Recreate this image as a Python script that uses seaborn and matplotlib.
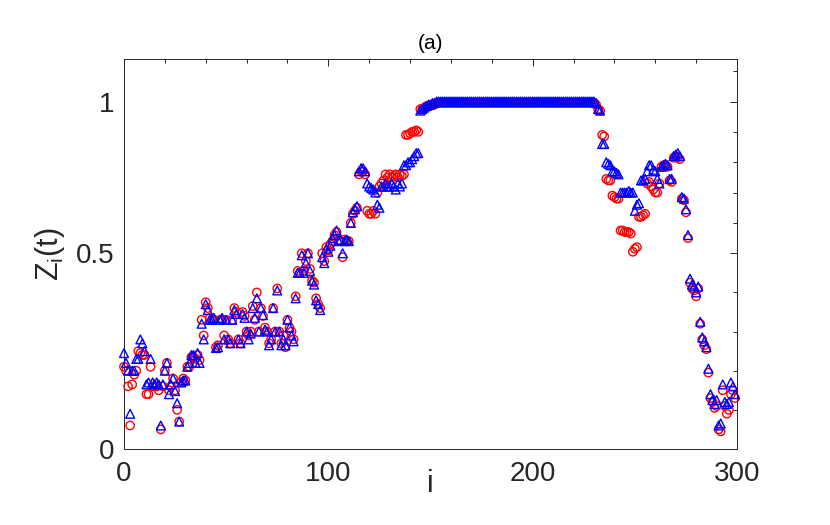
import numpy as np
import matplotlib
matplotlib.use("Agg")
import matplotlib.pyplot as plt
from matplotlib.ticker import MultipleLocator
import seaborn as sns

# index of the node
i_index = np.arange(300)

# Z_i(t), red circles
z_red = [
    0.21, 0.20, 0.16, 0.06, 0.165, 0.19, 0.20, 0.25, 0.245, 0.24,
    0.24, 0.14, 0.14, 0.21, 0.16, 0.16, 0.16, 0.15, 0.05, 0.16,
    0.20, 0.22, 0.15, 0.16, 0.18, 0.15, 0.10, 0.07, 0.17, 0.18,
    0.175, 0.21, 0.21, 0.235, 0.235, 0.23, 0.24, 0.227, 0.33, 0.29,
    0.375, 0.36, 0.335, 0.33, 0.33, 0.26, 0.265, 0.33, 0.33, 0.29,
    0.33, 0.28, 0.27, 0.33, 0.36, 0.35, 0.28, 0.27, 0.35, 0.34,
    0.30, 0.29, 0.30, 0.365, 0.33, 0.40, 0.30, 0.36, 0.34, 0.31,
    0.30, 0.27, 0.28, 0.36, 0.30, 0.41, 0.30, 0.27, 0.29, 0.26,
    0.33, 0.31, 0.30, 0.28, 0.39, 0.455, 0.45, 0.50, 0.455, 0.48,
    0.50, 0.46, 0.43, 0.425, 0.385, 0.37, 0.36, 0.50, 0.48, 0.52,
    0.51, 0.53, 0.54, 0.56, 0.57, 0.54, 0.54, 0.49, 0.545, 0.54,
    0.54, 0.60, 0.63, 0.64, 0.65, 0.76, 0.77, 0.77, 0.76, 0.64,
    0.63, 0.63, 0.64, 0.63, 0.70, 0.72, 0.73, 0.74, 0.76, 0.75,
    0.76, 0.75, 0.755, 0.76, 0.75, 0.76, 0.755, 0.76, 0.89, 0.89,
    0.895, 0.90, 0.90, 0.905, 0.90, 0.975, 0.975, 0.98, 0.985, 0.985,
    0.985, 0.99, 0.99, 0.995, 0.995, 0.995, 0.995, 0.995, 0.995, 0.995,
    0.995, 0.995, 0.995, 0.995, 0.995, 0.995, 0.995, 0.995, 0.995, 0.995,
    0.995, 0.995, 0.995, 0.995, 0.995, 0.995, 0.995, 0.995, 0.995, 0.995,
    0.995, 0.995, 0.995, 0.995, 0.995, 0.995, 0.995, 0.995, 0.995, 0.995,
    0.995, 0.995, 0.995, 0.995, 0.995, 0.995, 0.995, 0.995, 0.995, 0.995,
    0.995, 0.995, 0.995, 0.995, 0.995, 0.995, 0.995, 0.995, 0.995, 0.995,
    0.995, 0.995, 0.995, 0.995, 0.995, 0.995, 0.995, 0.995, 0.995, 0.995,
    0.995, 0.995, 0.995, 0.995, 0.995, 0.995, 0.995, 0.995, 0.995, 0.995,
    0.995, 0.99, 0.975, 0.97, 0.89, 0.885, 0.745, 0.74, 0.74, 0.69,
    0.685, 0.68, 0.68, 0.575, 0.575, 0.57, 0.57, 0.57, 0.565, 0.505,
    0.515, 0.52, 0.62, 0.62, 0.625, 0.63, 0.73, 0.735, 0.72, 0.71,
    0.70, 0.70, 0.73, 0.785, 0.79, 0.79, 0.785, 0.74, 0.735, 0.815,
    0.82, 0.815, 0.81, 0.68, 0.675, 0.635, 0.55, 0.425, 0.41, 0.405,
    0.39, 0.41, 0.32, 0.28, 0.265, 0.255, 0.195, 0.13, 0.12, 0.105,
    0.11, 0.05, 0.045, 0.15, 0.11, 0.09, 0.10, 0.14, 0.15, 0.13,
]

# Z_i(t), blue triangles
z_blue = [
    0.245, 0.22, 0.20, 0.09, 0.20, 0.20, 0.23, 0.23, 0.28, 0.27,
    0.25, 0.165, 0.17, 0.23, 0.17, 0.165, 0.17, 0.165, 0.06, 0.165,
    0.20, 0.22, 0.14, 0.165, 0.18, 0.148, 0.117, 0.07, 0.17, 0.175,
    0.175, 0.21, 0.22, 0.24, 0.24, 0.22, 0.245, 0.22, 0.32, 0.28,
    0.37, 0.355, 0.33, 0.33, 0.335, 0.258, 0.26, 0.33, 0.335, 0.28,
    0.33, 0.28, 0.27, 0.33, 0.355, 0.345, 0.28, 0.27, 0.345, 0.335,
    0.30, 0.28, 0.295, 0.36, 0.335, 0.385, 0.30, 0.36, 0.342, 0.305,
    0.30, 0.265, 0.28, 0.36, 0.30, 0.405, 0.30, 0.265, 0.28, 0.265,
    0.33, 0.31, 0.29, 0.275, 0.385, 0.45, 0.45, 0.495, 0.45, 0.475,
    0.50, 0.455, 0.43, 0.42, 0.38, 0.37, 0.355, 0.49, 0.475, 0.515,
    0.505, 0.525, 0.55, 0.56, 0.575, 0.54, 0.545, 0.50, 0.54, 0.545,
    0.54, 0.60, 0.635, 0.645, 0.655, 0.77, 0.78, 0.78, 0.77, 0.73,
    0.72, 0.715, 0.71, 0.70, 0.66, 0.65, 0.72, 0.72, 0.73, 0.72,
    0.72, 0.73, 0.72, 0.71, 0.73, 0.72, 0.73, 0.79, 0.79, 0.80,
    0.80, 0.81, 0.82, 0.83, 0.83, 0.97, 0.975, 0.98, 0.985, 0.99,
    0.99, 0.995, 0.995, 1.0, 1.0, 1.0, 1.0, 1.0, 1.0, 1.0,
    1.0, 1.0, 1.0, 1.0, 1.0, 1.0, 1.0, 1.0, 1.0, 1.0,
    1.0, 1.0, 1.0, 1.0, 1.0, 1.0, 1.0, 1.0, 1.0, 1.0,
    1.0, 1.0, 1.0, 1.0, 1.0, 1.0, 1.0, 1.0, 1.0, 1.0,
    1.0, 1.0, 1.0, 1.0, 1.0, 1.0, 1.0, 1.0, 1.0, 1.0,
    1.0, 1.0, 1.0, 1.0, 1.0, 1.0, 1.0, 1.0, 1.0, 1.0,
    1.0, 1.0, 1.0, 1.0, 1.0, 1.0, 1.0, 1.0, 1.0, 1.0,
    1.0, 1.0, 1.0, 1.0, 1.0, 1.0, 1.0, 1.0, 1.0, 1.0,
    1.0, 0.995, 0.975, 0.97, 0.86, 0.86, 0.80, 0.795, 0.79, 0.77,
    0.77, 0.765, 0.76, 0.70, 0.70, 0.70, 0.70, 0.705, 0.70, 0.70,
    0.64, 0.66, 0.665, 0.74, 0.74, 0.745, 0.77, 0.79, 0.79, 0.775,
    0.77, 0.745, 0.73, 0.785, 0.79, 0.795, 0.79, 0.745, 0.745, 0.82,
    0.825, 0.83, 0.82, 0.685, 0.68, 0.645, 0.56, 0.435, 0.42, 0.415,
    0.40, 0.415, 0.325, 0.285, 0.275, 0.26, 0.205, 0.14, 0.125, 0.115,
    0.125, 0.06, 0.065, 0.165, 0.12, 0.115, 0.12, 0.17, 0.16, 0.14,
]

x_ticks = [0, 100, 200, 300]
y_ticks = [0, 0.5, 1]
y_tick_labels = ["0", "0.5", "1"]

sns.set_theme(style="white")
plt.rcParams["font.family"] = ["Liberation Sans", "DejaVu Sans"]
plt.rcParams["mathtext.default"] = "regular"

axis_grey = "#262626"


# the y axis is stretched below 0.5 and squeezed above it
def fwd(y):
    y = np.asarray(y, dtype=float)
    return np.where(y <= 0.5, y, 0.5 + (y - 0.5) * 0.7755)


def inv(u):
    u = np.asarray(u, dtype=float)
    return np.where(u <= 0.5, u, 0.5 + (u - 0.5) / 0.7755)


fig = plt.figure(figsize=(8.3, 5.25), dpi=100)
ax = fig.add_axes([0.1494, 0.1448, 0.7386, 0.7428])

sns.scatterplot(x=i_index, y=z_red, ax=ax, marker="o", s=36,
                facecolor="none", edgecolor="#ff0000", linewidth=1.0,
                clip_on=False, zorder=3)
sns.scatterplot(x=i_index, y=z_blue, ax=ax, marker="^", s=40,
                facecolor="none", edgecolor="#0000ff", linewidth=1.0,
                clip_on=False, zorder=4)

ax.set_yscale("function", functions=(fwd, inv))
ax.set_xlim(0, 300)
ax.set_ylim(0, 1.14)

ax.set_xticks(x_ticks)
ax.set_xticklabels([str(t) for t in x_ticks])
ax.xaxis.set_minor_locator(MultipleLocator(20))
ax.set_yticks(y_ticks)
ax.set_yticklabels(y_tick_labels)
ax.yaxis.set_minor_locator(MultipleLocator(0.1))

ax.tick_params(which="both", direction="in", top=True, right=True,
               color=axis_grey, width=0.7, labelcolor=axis_grey)
ax.tick_params(which="major", length=5, labelsize=20)
ax.tick_params(which="minor", length=3)
ax.tick_params(axis="x", which="major", pad=9)
ax.tick_params(axis="y", which="major", pad=7)

for sp in ax.spines.values():
    sp.set_color(axis_grey)
    sp.set_linewidth(0.7)

ax.set_xlabel("i", fontsize=22, color=axis_grey)
ax.xaxis.set_label_coords(0.5, -0.052)
ax.set_ylabel(r"$Z_i(t)$", fontsize=22, color=axis_grey)
ax.yaxis.set_label_coords(-0.093, 0.5)
ax.set_title("(a)", fontsize=15, color="black", pad=7)

fig.savefig("out.png", dpi=100)
